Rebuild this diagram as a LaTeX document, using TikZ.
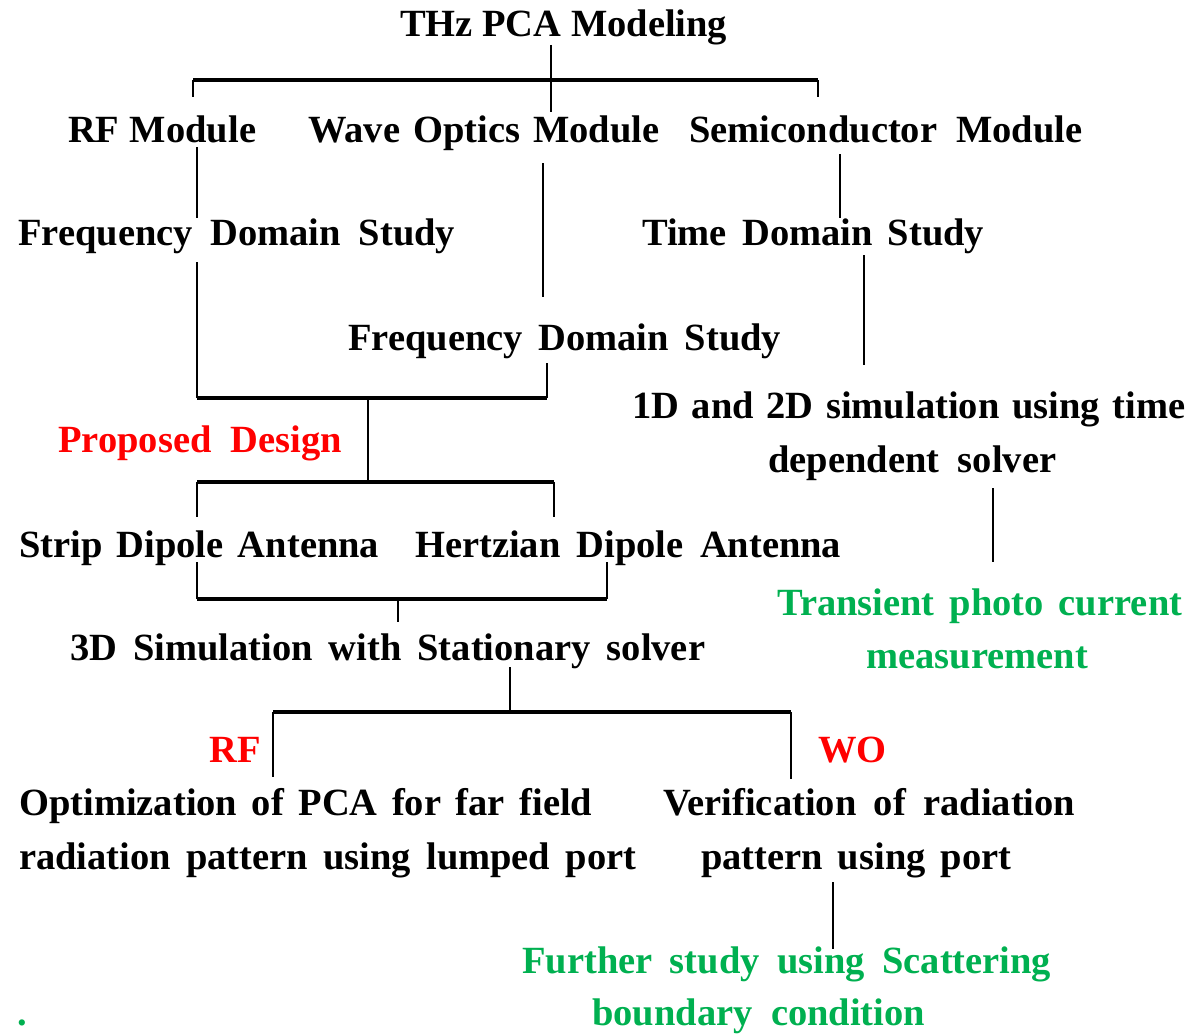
\documentclass[tikz,border=0pt]{standalone}
\usepackage{fontspec}
\setmainfont{Liberation Serif}
\usetikzlibrary{positioning}
\definecolor{pcared}{RGB}{255,0,0}
\definecolor{pcagreen}{RGB}{0,176,80}
\tikzstyle{lbl}=[anchor=base west,inner sep=0pt,font=\fontsize{38.5}{46}\selectfont\bfseries]
\tikzstyle{vline}=[line width=2.2pt]
\tikzstyle{hline}=[line width=3.8pt]
\newcommand{\fitw}[2]{\makebox[#1pt][s]{#2}}

\begin{document}
\begin{tikzpicture}[x=1pt,y=-1pt]
	\useasboundingbox (0,0) rectangle (1190,1033);

	% modules
	\node[lbl] (title) at (400,37) {\fitw{327}{THz PCA Modeling}};
	\node[lbl] (rfmod) at (68,142) {\fitw{188}{RF Module}};
	\node[lbl] (womod) at (308,142) {\fitw{351}{Wave Optics Module}};
	\node[lbl] (scmod) at (689,142) {\fitw{393}{Semiconductor Module}};

	% studies
	\node[lbl] (fds1) at (18,245) {\fitw{437}{Frequency Domain Study}};
	\node[lbl] (tds) at (642,245) {\fitw{342}{Time Domain Study}};
	\node[lbl] (fds2) at (348,350) {\fitw{433}{Frequency Domain Study}};
	\node[lbl] (tsim1) at (632,418) {\fitw{553}{1D and 2D simulation using time}};
	\node[lbl] (tsim2) at (768,472) {\fitw{288}{dependent solver}};
	\node[lbl,text=pcagreen] (trans1) at (777,615) {\fitw{405}{Transient photo current}};
	\node[lbl,text=pcagreen] (trans2) at (866,668) {measurement};

	% design
	\node[lbl,text=pcared] (prop) at (58,452) {\fitw{284}{Proposed Design}};
	\node[lbl] (strip) at (19,557) {\fitw{360}{Strip Dipole Antenna}};
	\node[lbl] (hertz) at (415,557) {\fitw{426}{Hertzian Dipole Antenna}};
	\node[lbl] (sim3d) at (70,660) {\fitw{635}{3D Simulation with Stationary solver}};

	% results
	\node[lbl,text=pcared] (rflab) at (209,762) {RF};
	\node[lbl,text=pcared] (wolab) at (818,762) {WO};
	\node[lbl] (opt1) at (19,815) {\fitw{573}{Optimization of PCA for far field}};
	\node[lbl] (opt2) at (19,869) {\fitw{617}{radiation pattern using lumped port}};
	\node[lbl] (ver1) at (663,815) {\fitw{412}{Verification of radiation}};
	\node[lbl] (ver2) at (701,869) {\fitw{310}{pattern using port}};
	\node[lbl,text=pcagreen] (fur1) at (522,973) {\fitw{529}{Further study using Scattering}};
	\node[lbl,text=pcagreen] (fur2) at (592,1025) {\fitw{333}{boundary condition}};
	\node[lbl,text=pcagreen] (dot) at (17,1025) {.};

	% junctions and line ends
	\coordinate (t0) at (551,45);
	\coordinate (t2) at (551,112);
	\coordinate (tl) at (193,80);
	\coordinate (tr) at (818,80);
	\coordinate (rf0) at (197,147);
	\coordinate (rf1) at (197,218);
	\coordinate (wo0) at (543,163);
	\coordinate (wo1) at (543,297);
	\coordinate (sc0) at (840,154);
	\coordinate (sc1) at (840,218);
	\coordinate (td0) at (864,255);
	\coordinate (td1) at (864,365);
	\coordinate (a0) at (197,262);
	\coordinate (a1) at (197,398);
	\coordinate (a2) at (547,398);
	\coordinate (a3) at (547,363);
	\coordinate (am) at (368,398);
	\coordinate (bm) at (368,482);
	\coordinate (bl) at (197,482);
	\coordinate (br) at (554,482);
	\coordinate (c0) at (197,562);
	\coordinate (cl) at (197,599);
	\coordinate (cr) at (607,599);
	\coordinate (c1) at (607,562);
	\coordinate (cm) at (398,599);
	\coordinate (ds0) at (993,488);
	\coordinate (ds1) at (993,562);
	\coordinate (d0) at (510,667);
	\coordinate (dm) at (510,712);
	\coordinate (dl) at (273,712);
	\coordinate (dr) at (791,712);
	\coordinate (p0) at (833,882);
	\coordinate (p1) at (833,949);

	\draw[vline] (t0) -- (t2);
	\draw[hline] (tl) -- (tr);
	\draw[vline] (tl) -- ++(0,17);
	\draw[vline] (tr) -- ++(0,17);
	\draw[vline] (rf0) -- (rf1);
	\draw[vline] (wo0) -- (wo1);
	\draw[vline] (sc0) -- (sc1);
	\draw[vline] (td0) -- (td1);

	\draw[vline] (a0) -- (a1);
	\draw[vline] (a3) -- (a2);
	\draw[hline] (a1) -- (a2);
	\draw[vline] (am) -- (bm);
	\draw[hline] (bl) -- (br);
	\draw[vline] (bl) -- ++(0,35);
	\draw[vline] (br) -- ++(0,35);

	\draw[vline] (c0) -- (cl);
	\draw[vline] (c1) -- (cr);
	\draw[hline] (cl) -- (cr);
	\draw[vline] (cm) -- ++(0,23);
	\draw[vline] (ds0) -- (ds1);

	\draw[vline] (d0) -- (dm);
	\draw[hline] (dl) -- (dr);
	\draw[vline] (dl) -- ++(0,65);
	\draw[vline] (dr) -- ++(0,67);
	\draw[vline] (p0) -- (p1);
\end{tikzpicture}
\end{document}
